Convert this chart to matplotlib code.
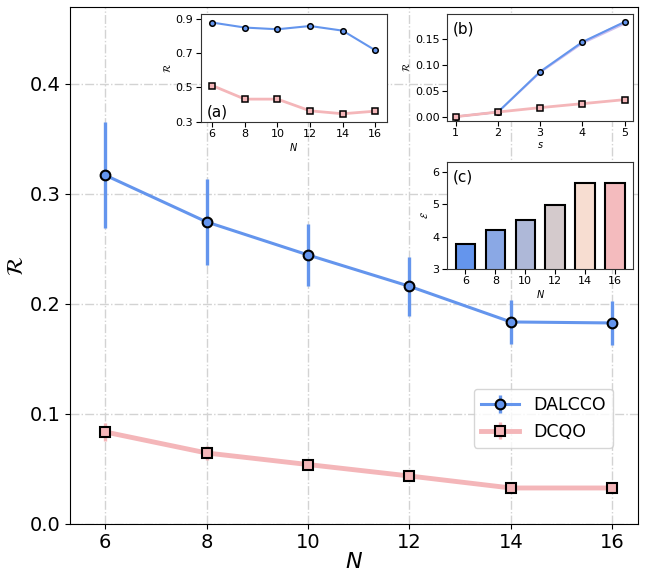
import matplotlib
matplotlib.use("Agg")
import matplotlib.pyplot as plt
import numpy as np

# ---------------- data ----------------
N = [6, 8, 10, 12, 14, 16]
dalcco = [0.317, 0.2745, 0.2445, 0.216, 0.1836, 0.1827]
dalcco_err = [0.048, 0.039, 0.028, 0.027, 0.020, 0.020]
dcqo = [0.0836, 0.0645, 0.054, 0.0436, 0.0327, 0.0327]
dcqo_err = [0.008, 0.006, 0.005, 0.004, 0.003, 0.003]

# inset (a)
a_dalcco = [0.877, 0.848, 0.838, 0.857, 0.830, 0.716]
a_dcqo = [0.511, 0.432, 0.432, 0.364, 0.347, 0.362]

# inset (b)
s = [1, 2, 3, 4, 5]
b_dalcco = [0.0, 0.009, 0.0873, 0.1448, 0.1836]
b_dalcco_lo = [0.0, 0.008, 0.085, 0.1415, 0.1795]
b_dalcco_hi = [0.0, 0.010, 0.0895, 0.1475, 0.1870]
b_dcqo = [0.0, 0.009, 0.0175, 0.0252, 0.033]

# inset (c)
c_labels = ["6", "8", "10", "12", "14", "16"]
c_energy = [3.78, 4.21, 4.52, 4.98, 5.67, 5.65]

# ---------------- style ----------------
BLUE = "#6495ED"
PINK = "#F4B6B9"
bar_colors = ["#6495ED", "#8AA8E5", "#AEB8D8", "#D4CACC", "#F7DDD1", "#F4BBBE"]

fig = plt.figure(figsize=(6.52, 5.72), dpi=100)
ax = fig.add_axes([0.107, 0.084, 0.871, 0.904])

ax.errorbar(N, dalcco, yerr=dalcco_err, color=BLUE, lw=2.2, elinewidth=2.4,
            marker="o", ms=7, mfc=BLUE, mec="black", mew=1.5, label="DALCCO",
            zorder=3)
ax.errorbar(N, dcqo, yerr=dcqo_err, color=PINK, lw=3.5, elinewidth=2.4,
            marker="s", ms=6.5, mfc=PINK, mec="black", mew=1.5, label="DCQO",
            zorder=3)
ax.set_xlim(5.3, 16.5)
ax.set_ylim(0, 0.47)
ax.set_xticks(N)
ax.set_yticks([0.0, 0.1, 0.2, 0.3, 0.4])
ax.tick_params(labelsize=14, pad=3)
ax.set_xlabel(r"$N$", fontsize=16, labelpad=0)
ax.set_ylabel(r"$\mathcal{R}$", fontsize=16, labelpad=2)
ax.grid(True, ls="-.", color="lightgray", lw=1)
ax.legend(loc="lower right", bbox_to_anchor=(0.971, 0.131), fontsize=12.5,
          handlelength=2.2, framealpha=0.8)

# inset (a)
axa = fig.add_axes([0.308, 0.787, 0.285, 0.188])
axa.plot(N, a_dalcco, color=BLUE, lw=1.5, marker="o", ms=4, mfc=BLUE,
         mec="black", mew=1.1)
axa.plot(N, a_dcqo, color=PINK, lw=2, marker="s", ms=4, mfc=PINK,
         mec="black", mew=1.1)
axa.set_xlim(5.3, 16.7)
axa.set_ylim(0.3, 0.925)
axa.set_xticks(N)
axa.set_yticks([0.3, 0.5, 0.7, 0.9])
axa.tick_params(labelsize=8, pad=2)
axa.set_xlabel(r"$N$", fontsize=7, labelpad=1)
axa.set_ylabel(r"$\mathcal{R}$", fontsize=7, labelpad=2)
axa.text(0.03, 0.05, "(a)", transform=axa.transAxes, fontsize=11)

# inset (b)
axb = fig.add_axes([0.686, 0.789, 0.285, 0.1865])
axb.fill_between(s, b_dalcco_lo, b_dalcco_hi, color="mediumpurple", alpha=0.45,
                 lw=0)
axb.plot(s, b_dalcco, color=BLUE, lw=1.5, marker="o", ms=4, mfc=BLUE,
         mec="black", mew=1.1)
axb.plot(s, b_dcqo, color=PINK, lw=2, marker="s", ms=4, mfc=PINK,
         mec="black", mew=1.1)
axb.set_xlim(0.8, 5.2)
axb.set_ylim(-0.0078, 0.199)
axb.set_xticks(s)
axb.set_yticks([0.0, 0.05, 0.10, 0.15])
axb.tick_params(labelsize=8, pad=2)
axb.set_xlabel(r"$s$", fontsize=7, labelpad=1)
axb.set_ylabel(r"$\mathcal{R}$", fontsize=7, labelpad=2)
axb.text(0.03, 0.82, "(b)", transform=axb.transAxes, fontsize=11)

# inset (c)
axc = fig.add_axes([0.686, 0.530, 0.285, 0.1865])
axc.bar(c_labels, c_energy, width=0.65, color=bar_colors, edgecolor="black",
        lw=1.5)
axc.set_ylim(3, 6.3)
axc.set_yticks([3, 4, 5, 6])
axc.tick_params(labelsize=8, pad=2)
axc.set_xlabel(r"$N$", fontsize=7, labelpad=1)
axc.set_ylabel(r"$\mathcal{E}$", fontsize=7, labelpad=2)
axc.text(0.03, 0.82, "(c)", transform=axc.transAxes, fontsize=11)

for a in (axa, axb, axc):
    for sp in a.spines.values():
        sp.set_color("#333333")

fig.savefig("out.png", dpi=100)
